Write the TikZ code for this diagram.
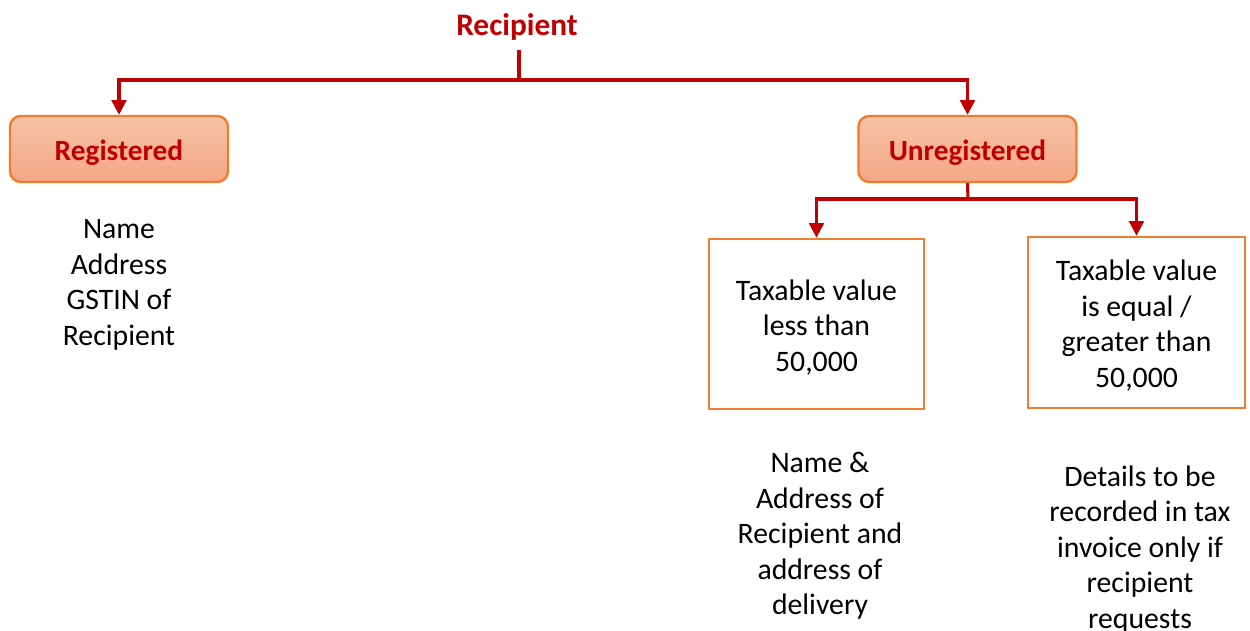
\documentclass[tikz,border=0pt]{standalone}
\usepackage{fontspec}
\setmainfont{Carlito}
\usetikzlibrary{arrows.meta}
\definecolor{darkred}{HTML}{C00000}
\definecolor{boxorange}{HTML}{ED7D31}
\definecolor{salmtop}{HTML}{F6C2A8}
\definecolor{salmbot}{HTML}{F4A785}
\newcommand{\downstrut}{\rule{0pt}{20.2pt}}
\tikzset{
  conn/.style={draw=darkred, line width=2.3pt},
  arr/.style={conn, -{Triangle[length=11pt,width=11pt]}},
  catbox/.style={draw=boxorange, line width=1.8pt, rounded corners=8pt,
    top color=salmtop, bottom color=salmbot, minimum width=163.5pt,
    minimum height=49.5pt, text height=20.5pt,
    font=\bfseries\fontsize{22}{26}\selectfont, text=darkred},
  valbox/.style={draw=boxorange, line width=1.8pt, fill=white, align=center,
    minimum width=161pt, minimum height=127.5pt, inner sep=0pt},
  plain/.style={align=center, inner sep=0pt},
}
\begin{document}
\begin{tikzpicture}[x=0.75pt, y=-0.75pt, font=\fontsize{22.3}{26.6}\selectfont]
\useasboundingbox (0,0) rectangle (1250,631);
\node[font=\bfseries\fontsize{23.5}{27}\selectfont, text=darkred, inner sep=0pt] (rec) at (517,27) {Recipient};
\coordinate (recb) at (519,50);
\coordinate (split) at (519,80);
\node[catbox] (reg) at (119,149) {Registered};
\node[catbox] (unreg) at (967.5,149) {Unregistered};
\coordinate (usplit) at (968,199);
\node[valbox] (low) at (816.5,324) {\downstrut Taxable value\\less than\\50,000};
\node[valbox, minimum width=162.75pt, minimum height=128.25pt] (high) at (1136.5,322.5) {\downstrut Taxable value\\is equal /\\greater than\\50,000};
\node[plain] (regtxt) at (119,285) {Name\\Address\\GSTIN of\\Recipient};
\node[plain] (lowtxt) at (820,536) {Name \&\\Address of\\Recipient and\\address of\\delivery};
\node[plain] (hightxt) at (1140,549.5) {Details to be\\recorded in tax\\invoice only if\\recipient\\requests};
\draw[conn] (recb) -- (split);
\draw[arr] (split) -| (reg.north);
\draw[arr] (split) -| (unreg.north);
\draw[conn] (unreg.south) -- (usplit);
\draw[arr] (usplit) -| (low.north);
\draw[arr] (usplit) -| (high.north);
\end{tikzpicture}
\end{document}
